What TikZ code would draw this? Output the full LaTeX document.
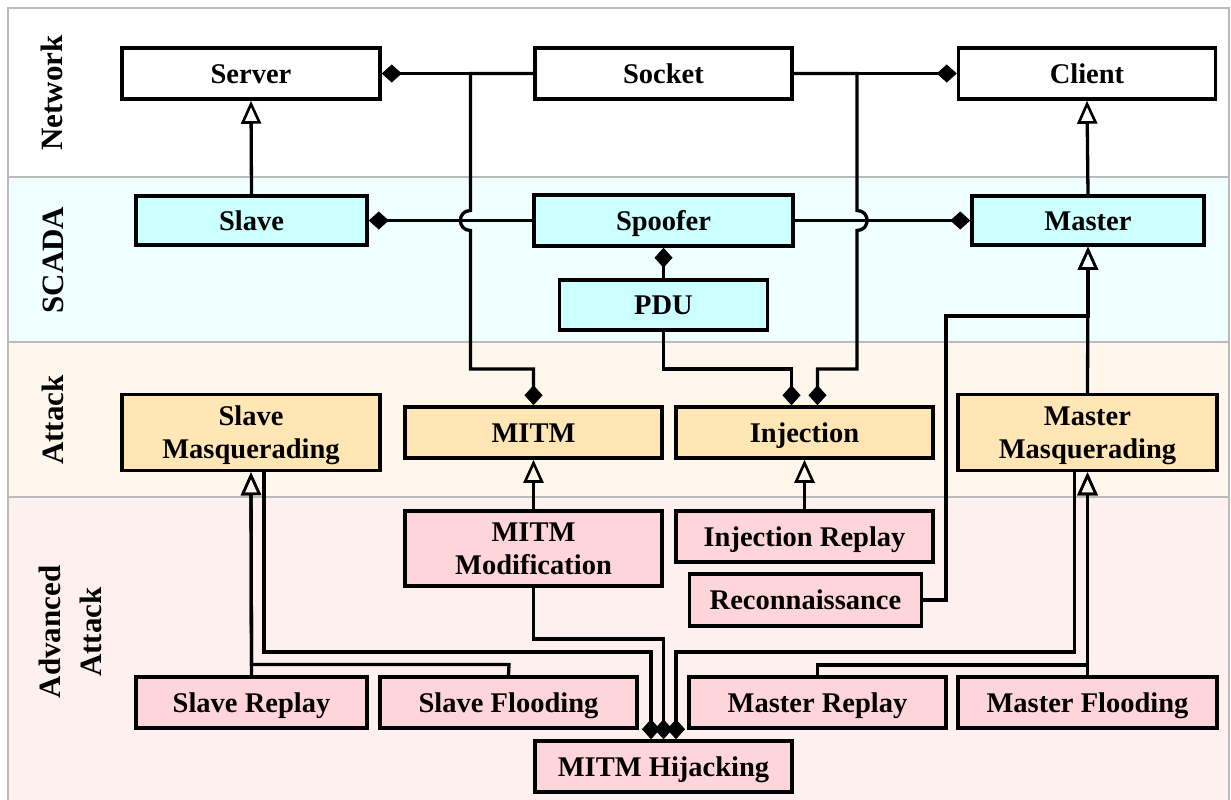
\documentclass[tikz,border=0pt]{standalone}
\usepackage{fontspec}
\setmainfont{Liberation Serif}
\usetikzlibrary{arrows.meta,calc}
\definecolor{cyanbox}{HTML}{CCFFFF}
\definecolor{orangebox}{HTML}{FFE6B4}
\definecolor{pinkbox}{HTML}{FFD5DC}
\definecolor{bandnet}{HTML}{FFFFFF}
\definecolor{bandscada}{HTML}{F0FFFF}
\definecolor{bandattack}{HTML}{FFF7EC}
\definecolor{bandadv}{HTML}{FFF0F0}
\definecolor{bandline}{HTML}{BBBBBB}
\tikzset{
  box/.style={draw=black, line width=3.5pt, inner sep=0pt, align=center,
    font=\fontsize{28.5}{33}\selectfont\bfseries},
  one/.style={text height=22pt, text depth=2.6pt},
  two/.style={text height=55pt, text depth=2.6pt},
  netbox/.style={box, one, fill=white},
  scbox/.style={box, one, fill=cyanbox},
  atbox/.style={box, fill=orangebox},
  advbox/.style={box, fill=pinkbox},
  conn/.style={draw=black, line width=3.3pt},
  tri/.style={conn, -{Triangle[open,length=23pt,width=20pt,line width=2.6pt]}},
  dia/.style={conn, -{Diamond[length=20pt,width=18pt,line width=0.8pt]}},
  band/.style={draw=bandline, line width=1.5pt},
  bandlabel/.style={rotate=90, align=center, font=\fontsize{31}{41}\selectfont\bfseries}
}
\begin{document}
\begin{tikzpicture}[x=1pt,y=-1pt]
\useasboundingbox (0,0) rectangle (1231,800);
% bands
\filldraw[band, fill=bandnet] (8,8) rectangle (1229,177);
\filldraw[band, fill=bandscada] (8,177) rectangle (1229,342);
\filldraw[band, fill=bandattack] (8,342) rectangle (1229,497);
\filldraw[band, fill=bandadv] (8,497) rectangle (1229,806);
\node[bandlabel] (lnet) at (52,93) {Network};
\node[bandlabel] (lsc) at (53,260) {SCADA};
\node[bandlabel] (lat) at (53,420) {Attack};
\node[bandlabel] (ladv) at (70,632) {Advanced\\Attack};
% network
\node[netbox, minimum width=258pt, minimum height=51pt] (srv) at (251,73.5) {Server};
\node[netbox, minimum width=257pt, minimum height=51pt] (sock) at (663.5,73.5) {Socket};
\node[netbox, minimum width=257pt, minimum height=51pt] (cli) at (1087,73.5) {Client};
% scada
\node[scbox, minimum width=231pt, minimum height=49pt] (slave) at (251.5,220.5) {Slave};
\node[scbox, minimum width=259pt, minimum height=51pt] (spoof) at (663.5,220.5) {Spoofer};
\node[scbox, minimum width=232pt, minimum height=49pt] (master) at (1088,220.5) {Master};
\node[scbox, minimum width=208pt, minimum height=50pt] (pdu) at (663.5,305) {PDU};
% attack
\node[atbox, two, minimum width=258pt, minimum height=76pt] (smasq) at (251,432.5) {Slave\\Masquerading};
\node[atbox, one, minimum width=257pt, minimum height=51pt] (mitm) at (533.5,432.5) {MITM};
\node[atbox, one, minimum width=257pt, minimum height=51pt] (inj) at (804.5,432.5) {Injection};
\node[atbox, two, minimum width=259pt, minimum height=76pt] (mmasq) at (1087.5,432.5) {Master\\Masquerading};
% advanced
\node[advbox, two, minimum width=257pt, minimum height=75pt] (mod) at (533.5,548.5) {MITM\\Modification};
\node[advbox, one, minimum width=257pt, minimum height=51pt] (injr) at (804.5,536.5) {Injection Replay};
\node[advbox, one, minimum width=232pt, minimum height=52pt] (recon) at (805.5,600) {Reconnaissance};
\node[advbox, one, minimum width=231pt, minimum height=51pt] (sr) at (251.5,702.5) {Slave Replay};
\node[advbox, one, minimum width=257pt, minimum height=51pt] (sf) at (508.5,702.5) {Slave Flooding};
\node[advbox, one, minimum width=257pt, minimum height=51pt] (mr) at (817.5,702.5) {Master Replay};
\node[advbox, one, minimum width=259pt, minimum height=51pt] (mf) at (1087.5,702.5) {Master Flooding};
\node[advbox, one, minimum width=257pt, minimum height=51pt] (hij) at (663.5,766.5) {MITM Hijacking};
% connectors: network / scada
\draw[dia] (sock.west) -- (srv.east);
\draw[dia] (sock.east) -- (cli.west);
\draw[tri] (slave.north) -- (srv.south);
\draw[tri] (master.north) -- (cli.south);
\draw[dia] (spoof.west) -- (slave.east);
\draw[dia] (spoof.east) -- (master.west);
\draw[dia] (pdu.north) -- (spoof.south);
% socket to MITM and Injection (with hops)
\draw[dia] (sock.west) -- (470.5,73.5) -- (470.5,210.5)
  .. controls (457,210.5) and (457,230.5) .. (470.5,230.5)
  -- (470.5,369) -| (mitm.north);
\draw[dia] (sock.east) -- (857,73.5) -- (857,210.5)
  .. controls (870.5,210.5) and (870.5,230.5) .. (857,230.5)
  -- (857,369) -| ([xshift=13pt]inj.north);
\draw[dia] (pdu.south) -- (663.5,369) -| ([xshift=-13pt]inj.north);
% attack level
\draw[tri] (mod.north) -- (mitm.south);
\draw[tri] (injr.north) -- (inj.south);
\draw[tri] (mmasq.north) -- (master.south);
\draw[tri] (recon.east) -- (946,600) -- (946,316) -- (1088,316) -- (master.south);
% advanced to masquerading
\draw[tri] (sr.north) -- (smasq.south);
\draw[tri] (sf.north) -- (509,664.5) -- (251.5,664.5) -- (smasq.south);
\draw[tri] (mf.north) -- (mmasq.south);
\draw[tri] (mr.north) -- (817.5,665) -- (1087.5,665) -- (mmasq.south);
% to hijacking
\draw[dia] ([xshift=13pt]smasq.south) -- (264,652) -| ([xshift=-12.5pt]hij.north);
\draw[dia] (mod.south) -- (533.5,639) -| (hij.north);
\draw[dia] ([xshift=-13pt]mmasq.south) -- (1074.5,652) -| ([xshift=12.5pt]hij.north);
\end{tikzpicture}
\end{document}
